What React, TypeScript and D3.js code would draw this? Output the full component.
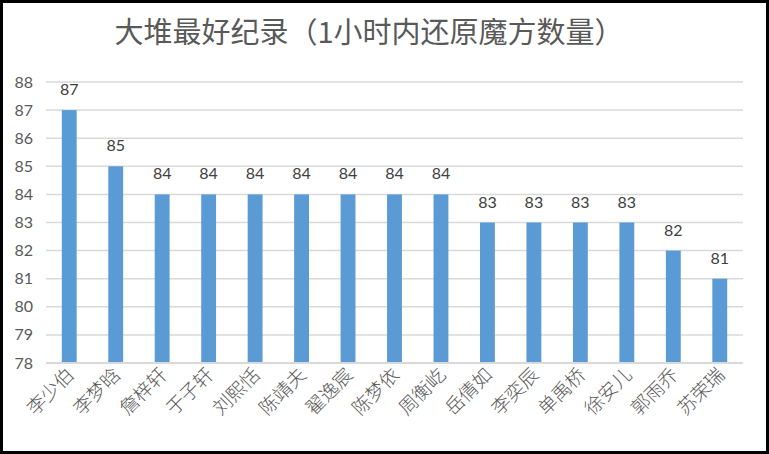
import React, { useEffect, useRef } from "react";
import * as d3 from "d3";

const title = "大堆最好纪录（1小时内还原魔方数量）";
const names = ["李少伯", "李梦晗", "詹梓轩", "于子轩", "刘熙恬", "陈靖夫", "翟逸宸", "陈梦依", "周衡屹", "岳倩如", "李奕辰", "单禹桥", "徐安儿", "郭雨乔", "苏荣瑞"];
const values = [87, 85, 84, 84, 84, 84, 84, 84, 84, 83, 83, 83, 83, 82, 81];
const yTicks = [78, 79, 80, 81, 82, 83, 84, 85, 86, 87, 88];

const W = 769;
const H = 454;

export default function App() {
  const ref = useRef<SVGSVGElement>(null);
  useEffect(() => {
    const svg = d3.select(ref.current);
    svg.selectAll("*").remove();

    svg.append("rect").attr("x", 1.5).attr("y", 1.5).attr("width", W - 3).attr("height", H - 3)
      .attr("fill", "#fff").attr("stroke", "#000").attr("stroke-width", 3);

    const x = d3.scaleBand<string>().domain(names).range([46, 743]).paddingInner(0.68).paddingOuter(0.34);
    const y = d3.scaleLinear().domain([78, 88]).range([363, 82]);

    svg.append("text").attr("x", 369).attr("y", 43).attr("text-anchor", "middle")
      .attr("font-family", "'Noto Sans CJK SC', sans-serif").attr("font-size", 29)
      .attr("fill", "#595959").text(title);

    const g = svg.append("g");
    g.selectAll("line.grid").data(yTicks).enter().append("line")
      .attr("x1", 46).attr("x2", 743)
      .attr("y1", (d) => y(d)).attr("y2", (d) => y(d))
      .attr("stroke", "#D9D9D9").attr("stroke-width", 1.5);

    g.selectAll("text.yt").data(yTicks).enter().append("text")
      .attr("x", 33).attr("y", (d) => y(d) + 5.5).attr("text-anchor", "end")
      .attr("font-family", "Lato, 'Open Sans', sans-serif").attr("font-size", 16)
      .attr("fill", "#595959").text((d) => d);

    g.selectAll("rect.bar").data(values).enter().append("rect")
      .attr("x", (_, i) => x(names[i])!).attr("width", x.bandwidth())
      .attr("y", (d) => y(d)).attr("height", (d) => y(78) - y(d))
      .attr("fill", "#5B9BD5");

    g.selectAll("text.vl").data(values).enter().append("text")
      .attr("x", (_, i) => x(names[i])! + x.bandwidth() / 2).attr("y", (d) => y(d) - 15)
      .attr("text-anchor", "middle")
      .attr("font-family", "Lato, 'Open Sans', sans-serif").attr("font-size", 16)
      .attr("fill", "#404040").text((d) => d);

    g.append("line").attr("x1", 46).attr("x2", 743).attr("y1", y(78)).attr("y2", y(78))
      .attr("stroke", "#D9D9D9").attr("stroke-width", 2);

    g.selectAll("text.xl").data(names).enter().append("text")
      .attr("transform", (d) => `translate(${x(d)! + x.bandwidth() / 2 + 6},${376}) rotate(-45)`)
      .attr("text-anchor", "end")
      .attr("font-family", "'Noto Sans CJK SC', sans-serif").attr("font-size", 19)
      .attr("font-weight", 300)
      .attr("fill", "#595959").text((d) => d);
  }, []);
  return (
    <div style={{ position: "fixed", left: 0, top: 0 }}>
      <svg ref={ref} width={W} height={H} style={{ display: "block" }} />
    </div>
  );
}
